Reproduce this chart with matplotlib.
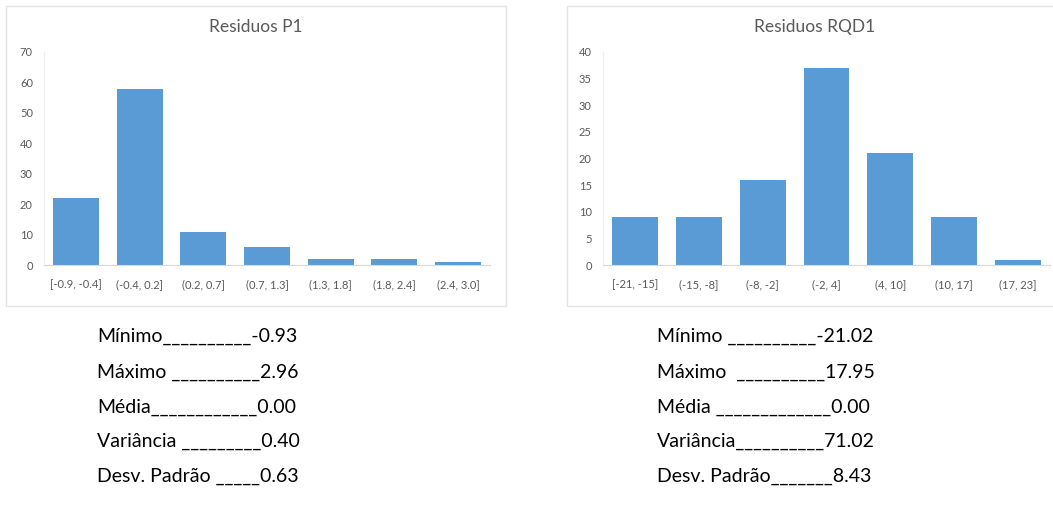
import numpy as np
from matplotlib import pyplot as plt
from matplotlib.patches import Rectangle

plt.rcParams['font.family'] = ['Lato', 'DejaVu Sans']

# Histogram data
bins_p1 = ['[-0.9, -0.4]', '(-0.4, 0.2]', '(0.2, 0.7]', '(0.7, 1.3]',
           '(1.3, 1.8]', '(1.8, 2.4]', '(2.4, 3.0]']
counts_p1 = [22, 58, 11, 6, 2, 2, 1]

bins_rqd = ['[-21, -15]', '(-15, -8]', '(-8, -2]', '(-2, 4]',
            '(4, 10]', '(10, 17]', '(17, 23]']
counts_rqd = [9, 9, 16, 37, 21, 9, 1]

# Summary statistics
stat_labels_p1 = ['Mínimo__________', 'Máximo __________', 'Média____________',
                  'Variância _________', 'Desv. Padrão _____']
stat_values_p1 = ['-0.93', '2.96', '0.00', '0.40', '0.63']
stat_labels_rqd = ['Mínimo __________', 'Máximo  __________', 'Média _____________',
                   'Variância__________', 'Desv. Padrão_______']
stat_values_rqd = ['-21.02', '17.95', '0.00', '71.02', '8.43']

W, H = 1053, 516
fig = plt.figure(figsize=(W / 100, H / 100), dpi=100)

bar_color = '#5B9BD5'
text_gray = '#595959'
axis_gray = '#D9D9D9'


def fx(px):
    return px / W


def fy(py):
    return 1 - py / H


# chart frames (chart area of each Excel chart)
frames = [(6, 506), (567, 1060)]
for x0, x1 in frames:
    fig.patches.append(Rectangle((fx(x0), fy(306)), fx(x1 - x0), (306 - 6) / H,
                                 transform=fig.transFigure, fill=False,
                                 edgecolor='#E3E3E3', linewidth=1))


def histogram(left, right, labels, counts, ymax, step, title, title_x):
    ax = fig.add_axes([fx(left), fy(265), fx(right - left), (265 - 52) / H])
    x = np.arange(len(labels))
    ax.bar(x, counts, width=0.72, color=bar_color, zorder=2)
    ax.set_xlim(-0.5, len(labels) - 0.5)
    ax.set_ylim(0, ymax)
    ax.set_yticks(np.arange(0, ymax + 1, step))
    ax.set_xticks(x)
    ax.set_xticklabels(labels)
    ax.tick_params(length=0, labelsize=8, colors=text_gray)
    ax.tick_params(axis='x', pad=10)
    ax.tick_params(axis='y', pad=8)
    for s in ['top', 'right']:
        ax.spines[s].set_visible(False)
    ax.spines['bottom'].set_color(axis_gray)
    ax.spines['left'].set_color('#EEEEEE')
    # Excel centres the title on the whole chart area
    fig.text(fx(title_x), fy(27), title, fontsize=12.5, color=text_gray,
             ha='center', va='center')
    return ax


histogram(44, 490, bins_p1, counts_p1, 70, 10, 'Residuos P1', 256)
histogram(603, 1050, bins_rqd, counts_rqd, 40, 5, 'Residuos RQD1', 815)

rows_y = [336, 372, 407, 441, 476]
for x0, labs, vals in [(97, stat_labels_p1, stat_values_p1),
                       (657, stat_labels_rqd, stat_values_rqd)]:
    for yy, lab, val in zip(rows_y, labs, vals):
        fig.text(fx(x0), fy(yy), lab + val, fontsize=14, color='black',
                 va='center', ha='left')

fig.savefig('out.png', dpi=100, facecolor='white')
